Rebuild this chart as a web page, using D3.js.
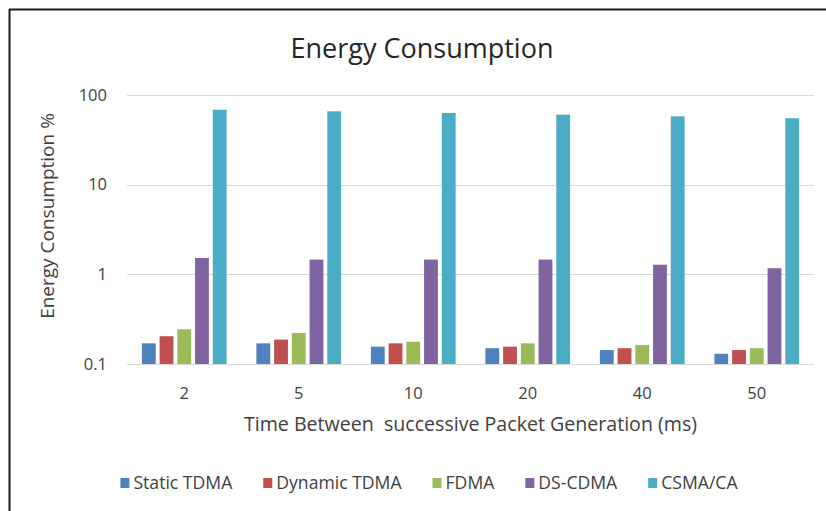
<!DOCTYPE html>
<html>
<head>
<meta charset="utf-8">
<script src="https://cdn.jsdelivr.net/npm/d3@7"></script>
<style>
  html, body { margin: 0; padding: 0; background: #fff; }
  svg text { font-family: "Open Sans", "Lato", sans-serif; fill: #404040; }
</style>
</head>
<body>
<svg id="chart" width="826" height="511"></svg>
<script>
const categories = ["2", "5", "10", "20", "40", "50"];
const seriesNames = ["Static TDMA", "Dynamic TDMA", "FDMA", "DS-CDMA", "CSMA/CA"];
const staticTDMA  = [0.170, 0.170, 0.156, 0.150, 0.143, 0.130];
const dynamicTDMA = [0.204, 0.187, 0.170, 0.156, 0.150, 0.143];
const fdma        = [0.244, 0.222, 0.177, 0.170, 0.163, 0.150];
const dsCDMA      = [1.52, 1.46, 1.46, 1.46, 1.28, 1.17];
const csmaCA      = [68.5, 65.8, 63.0, 60.3, 57.8, 55.0];
const yTicks = [0.1, 1, 10, 100];
const yTickLabels = ["0.1", "1", "10", "100"];
const colors = ["#4F81BD", "#C0504D", "#9BBB59", "#8064A2", "#4BACC6"];

const series = [staticTDMA, dynamicTDMA, fdma, dsCDMA, csmaCA];

const svg = d3.select("#chart");

// outer border (top and left visible)
svg.append("line").attr("x1", 9).attr("x2", 826).attr("y1", 9.5).attr("y2", 9.5)
  .attr("stroke", "#1a1a1a").attr("stroke-width", 2);
svg.append("line").attr("x1", 9.5).attr("x2", 9.5).attr("y1", 9).attr("y2", 511)
  .attr("stroke", "#1a1a1a").attr("stroke-width", 2);

const plot = { left: 127, right: 814, top: 95, bottom: 364 };

const x0 = d3.scaleBand().domain(categories).range([plot.left, plot.right]).paddingInner(0.26).paddingOuter(0.13);
const x1 = d3.scaleBand().domain(d3.range(seriesNames.length)).range([0, x0.bandwidth()]).paddingInner(0.22);
const y = d3.scaleLog().domain([0.1, 100]).range([plot.bottom, plot.top]);

// gridlines
svg.append("g").selectAll("line").data(yTicks).join("line")
  .attr("x1", plot.left).attr("x2", plot.right)
  .attr("y1", d => Math.round(y(d)) + 0.5).attr("y2", d => Math.round(y(d)) + 0.5)
  .attr("stroke", "#d9d9d9").attr("stroke-width", 1.2);

// y tick labels
svg.append("g").selectAll("text").data(yTicks).join("text")
  .attr("x", 107).attr("y", d => y(d)).attr("dy", "0.35em")
  .attr("text-anchor", "end").attr("font-size", 16.5)
  .text((d, i) => yTickLabels[i]);

// bars
const groups = svg.append("g").selectAll("g").data(categories).join("g")
  .attr("transform", d => `translate(${x0(d)},0)`);
groups.selectAll("rect").data((c, ci) => series.map((s, si) => ({ si, v: s[ci] })))
  .join("rect")
  .attr("x", d => x1(d.si))
  .attr("width", x1.bandwidth())
  .attr("y", d => y(d.v))
  .attr("height", d => y(0.1) - y(d.v))
  .attr("fill", d => colors[d.si]);

// x tick labels
svg.append("g").selectAll("text").data(categories).join("text")
  .attr("x", d => x0(d) + x0.bandwidth() / 2).attr("y", 399)
  .attr("text-anchor", "middle").attr("font-size", 16.5)
  .text(d => d);

// axis titles
svg.append("text").attr("x", (plot.left + plot.right) / 2).attr("y", 431)
  .attr("text-anchor", "middle").attr("font-size", 19.6)
  .style("white-space", "pre")
  .text("Time Between  successive Packet Generation (ms)");
svg.append("text").attr("transform", "translate(54,216) rotate(-90)")
  .attr("text-anchor", "middle").attr("font-size", 19)
  .text("Energy Consumption %");

// title
svg.append("text").attr("x", 422).attr("y", 58).attr("text-anchor", "middle")
  .attr("font-size", 27).style("fill", "#262626")
  .text("Energy Consumption");

// legend
const legend = svg.append("g");
let lx = 0;
seriesNames.forEach((name, i) => {
  const g = legend.append("g").attr("transform", `translate(${lx},0)`);
  g.append("rect").attr("x", 0).attr("y", -11).attr("width", 9).attr("height", 10).attr("fill", colors[i]);
  const t = g.append("text").attr("x", 13).attr("y", 0).attr("font-size", 17.6).text(name);
  const w = t.node().getComputedTextLength();
  lx += 13 + w + 31;
});
const totalW = lx - 31;
legend.attr("transform", `translate(${429 - totalW / 2},489)`);
</script>
</body>
</html>
